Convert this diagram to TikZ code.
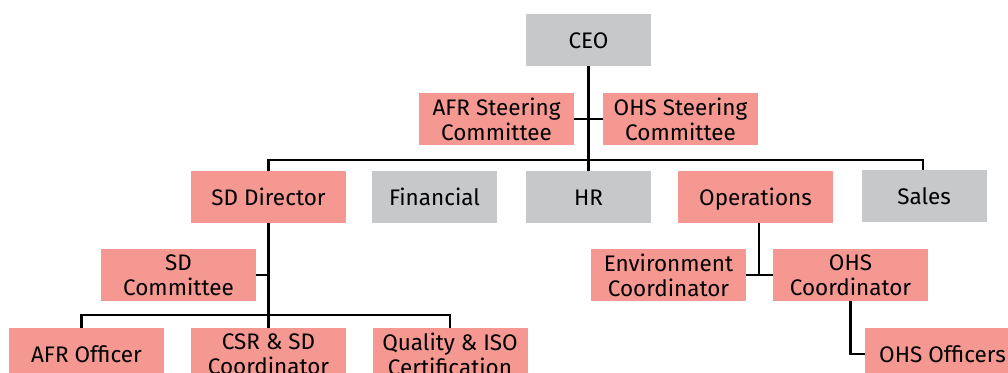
\documentclass[tikz,border=0pt]{standalone}
\usepackage{fontspec}
\setmainfont{Fira Sans}
\definecolor{pinkbox}{RGB}{246,152,146}
\definecolor{graybox}{RGB}{199,200,202}
\begin{document}
\begin{tikzpicture}[x=1pt,y=-1pt,
  box/.style={inner sep=0pt, align=center, font=\fontsize{22.5}{25}\selectfont, minimum height=52pt},
  one/.style={text height=16pt, text depth=0pt},
  pbox/.style={box, fill=pinkbox, minimum width=155pt},
  gbox/.style={box, fill=graybox, minimum width=125pt},
  conn/.style={line width=2.6pt, draw=black}]
\useasboundingbox (0,0) rectangle (1008,372);
\clip (0,0) rectangle (1008,372);
% nodes
\node[gbox,one] (ceo) at (588.5,40) {CEO};
\node[pbox] (afrsc) at (496.5,119) {AFR Steering\\Committee};
\node[pbox] (ohssc) at (680.5,119) {OHS Steering\\Committee};
\node[pbox,one] (sddir) at (268.5,197) {SD Director};
\node[gbox,one] (fin) at (434.5,197) {Financial};
\node[gbox,one] (hr) at (588.5,197) {HR};
\node[pbox,one] (ops) at (755.5,197) {Operations};
\node[gbox,one] (sales) at (924,196) {Sales};
\node[pbox] (sdcom) at (178.5,275) {SD\\Committee};
\node[pbox] (env) at (668.5,275) {Environment\\Coordinator};
\node[pbox] (ohsc) at (850.5,275) {OHS\\Coordinator};
\node[pbox,one] (afro) at (86.5,354) {AFR Officer};
\node[pbox] (csr) at (268.5,354) {CSR \& SD\\Coordinator};
\node[pbox] (qual) at (450,354) {Quality \& ISO\\Certification};
\node[pbox,one] (ohso) at (942.5,354) {OHS Officers};
% junctions
\coordinate (barL) at (268.5,160);
\coordinate (barR) at (923,160);
\coordinate (sdj) at (268.5,315);
\coordinate (opj) at (759,276);
% connectors
\draw[conn] (ceo.south) -- (hr.north);
\draw[conn] (afrsc.east) -- (ohssc.west);
\draw[conn] (sddir.north) -- (barL) -- (barR) -- (barR |- sales.north);
\draw[conn] (sddir.south) -- (csr.north);
\draw[conn] ([xshift=-5pt]afro.north) -- ([xshift=-5pt]afro.north |- sdj) -- (qual.north |- sdj) -- (qual.north);
\draw[conn] (sdcom.east) -- (sdcom.east -| sdj);
\draw[conn] (ops.south -| opj) -- (opj);
\draw[conn] (env.east) -- (ohsc.west);
\draw[conn] (ohsc.south) -- (ohsc.south |- ohso.west) -- (ohso.west);
\end{tikzpicture}
\end{document}
